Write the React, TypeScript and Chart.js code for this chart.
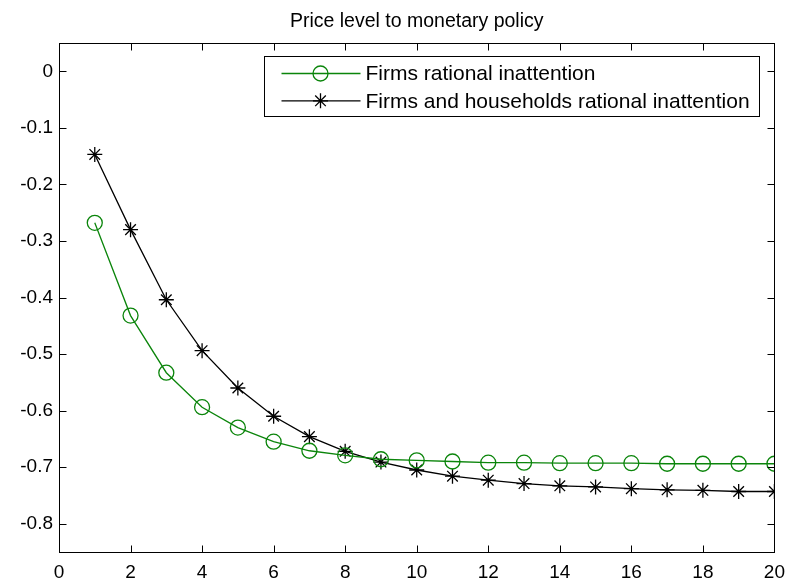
import React, { useEffect, useRef } from "react";
import { Chart, registerables } from "chart.js";

Chart.register(...registerables);

const chartTitle = "Price level to monetary policy";
const periods = [1, 2, 3, 4, 5, 6, 7, 8, 9, 10, 11, 12, 13, 14, 15, 16, 17, 18, 19, 20];
const firmsLabel = "Firms rational inattention";
const firmsRI = [
  -0.268, -0.432, -0.533, -0.594, -0.63, -0.655, -0.671, -0.679, -0.686, -0.688,
  -0.69, -0.692, -0.692, -0.693, -0.693, -0.693, -0.694, -0.694, -0.694, -0.694,
];
const bothLabel = "Firms and households rational inattention";
const firmsHouseholdsRI = [
  -0.147, -0.28, -0.404, -0.494, -0.56, -0.61, -0.646, -0.672, -0.691, -0.705,
  -0.716, -0.723, -0.729, -0.733, -0.735, -0.738, -0.74, -0.741, -0.743, -0.743,
];
const xTicks = [0, 2, 4, 6, 8, 10, 12, 14, 16, 18, 20];
const yTicks = [0, -0.1, -0.2, -0.3, -0.4, -0.5, -0.6, -0.7, -0.8];
const yTickLabels = ["0", "-0.1", "-0.2", "-0.3", "-0.4", "-0.5", "-0.6", "-0.7", "-0.8"];

const FONT = '"Liberation Sans", Arial, Helvetica, sans-serif';
const GREEN = "#0b850b";
const LW = 1.3;

function drawMarker(ctx: CanvasRenderingContext2D, style: string, x: number, y: number, r: number, color: string) {
  ctx.save();
  ctx.strokeStyle = color;
  ctx.lineWidth = LW;
  ctx.beginPath();
  if (style === "circle") {
    ctx.arc(x, y, r, 0, Math.PI * 2);
  } else {
    const d = r * Math.SQRT1_2;
    ctx.moveTo(x - r, y);
    ctx.lineTo(x + r, y);
    ctx.moveTo(x, y - r);
    ctx.lineTo(x, y + r);
    ctx.moveTo(x - d, y - d);
    ctx.lineTo(x + d, y + d);
    ctx.moveTo(x - d, y + d);
    ctx.lineTo(x + d, y - d);
  }
  ctx.stroke();
  ctx.restore();
}

const boxTicksPlugin = {
  id: "boxTicks",
  afterDatasetsDraw(chart: any) {
    const { ctx, chartArea } = chart;
    const xs = chart.scales.x;
    const ys = chart.scales.y;
    const L = Math.round(chartArea.left) + 0.5;
    const R = Math.round(chartArea.right) + 0.5;
    const T = Math.round(chartArea.top) + 0.5;
    const B = Math.round(chartArea.bottom) + 0.5;
    const tl = 7;
    ctx.save();
    ctx.strokeStyle = "#000";
    ctx.lineWidth = 1;
    ctx.beginPath();
    xs.ticks.forEach((t: any) => {
      const px = Math.round(xs.getPixelForValue(t.value)) + 0.5;
      ctx.moveTo(px, B);
      ctx.lineTo(px, B - tl);
      ctx.moveTo(px, T);
      ctx.lineTo(px, T + tl);
    });
    ys.ticks.forEach((t: any) => {
      const py = Math.round(ys.getPixelForValue(t.value)) + 0.5;
      ctx.moveTo(L, py);
      ctx.lineTo(L + tl, py);
      ctx.moveTo(R, py);
      ctx.lineTo(R - tl, py);
    });
    ctx.stroke();
    ctx.strokeRect(L, T, R - L, B - T);
    ctx.restore();
  },
};

const insetLegendPlugin = {
  id: "insetLegend",
  afterDraw(chart: any) {
    const { ctx, chartArea } = chart;
    ctx.save();
    ctx.font = `21px ${FONT}`;
    const items = chart.data.datasets.map((ds: any) => ({
      label: ds.label,
      color: ds.borderColor,
      style: ds.pointStyle,
      radius: ds.pointRadius,
    }));
    const textW = Math.max(...items.map((i: any) => ctx.measureText(i.label).width));
    const right = Math.round(chartArea.right) - 15 + 0.5;
    const width = Math.round(101 + textW + 10);
    const left = right - width;
    const top = Math.round(chartArea.top) + 13 + 0.5;
    const height = 60;
    ctx.fillStyle = "#fff";
    ctx.fillRect(left, top, width, height);
    ctx.strokeStyle = "#000";
    ctx.lineWidth = 1;
    ctx.strokeRect(left, top, width, height);
    items.forEach((it: any, i: number) => {
      const y = top + 17 + i * 27.3;
      ctx.strokeStyle = it.color;
      ctx.lineWidth = LW;
      ctx.beginPath();
      ctx.moveTo(left + 17, y);
      ctx.lineTo(left + 96, y);
      ctx.stroke();
      drawMarker(ctx, it.style, left + 56, y, it.radius, it.color);
      ctx.fillStyle = "#000";
      ctx.textAlign = "left";
      ctx.textBaseline = "middle";
      ctx.fillText(it.label, left + 101, y + 1);
    });
    ctx.restore();
  },
};

export default function App() {
  const canvasRef = useRef<HTMLCanvasElement | null>(null);

  useEffect(() => {
    const canvas = canvasRef.current;
    if (!canvas) return;
    const chart = new Chart(canvas, {
      type: "line",
      data: {
        datasets: [
          {
            label: firmsLabel,
            data: periods.map((p, i) => ({ x: p, y: firmsRI[i] })),
            borderColor: GREEN,
            backgroundColor: "transparent",
            borderWidth: LW,
            pointStyle: "circle",
            pointRadius: 7.5,
            pointBorderWidth: LW,
            pointBorderColor: GREEN,
            pointBackgroundColor: "transparent",
            tension: 0,
            fill: false,
          },
          {
            label: bothLabel,
            data: periods.map((p, i) => ({ x: p, y: firmsHouseholdsRI[i] })),
            borderColor: "#000",
            backgroundColor: "transparent",
            borderWidth: LW,
            pointStyle: "star",
            pointRadius: 7.5,
            pointBorderWidth: LW,
            pointBorderColor: "#000",
            pointBackgroundColor: "transparent",
            tension: 0,
            fill: false,
          },
        ],
      },
      options: {
        animation: false,
        responsive: false,
        devicePixelRatio: 1,
        layout: { padding: { left: 0, right: 15, top: 0, bottom: 0 } },
        plugins: {
          legend: { display: false },
          tooltip: { enabled: false },
          title: {
            display: true,
            text: chartTitle,
            fullSize: false,
            color: "#000",
            font: { family: FONT, size: 19.5, weight: "normal", lineHeight: 1.2 },
            padding: { top: 10, bottom: 9.6 },
          },
        },
        scales: {
          x: {
            type: "linear",
            min: 0,
            max: 20,
            border: { display: false },
            grid: { display: false, drawTicks: false },
            afterBuildTicks: (scale: any) => {
              scale.ticks = xTicks.map((v) => ({ value: v }));
            },
            afterFit: (scale: any) => {
              scale.height = 35;
            },
            ticks: {
              color: "#000",
              padding: 9,
              maxRotation: 0,
              autoSkip: false,
              font: { family: FONT, size: 19 },
              callback: (v: any) => String(v),
            },
          },
          y: {
            type: "linear",
            min: -0.85,
            max: 0.05,
            border: { display: false },
            grid: { display: false, drawTicks: false },
            afterBuildTicks: (scale: any) => {
              scale.ticks = yTicks.map((v) => ({ value: v }));
            },
            afterFit: (scale: any) => {
              scale.width = 59;
            },
            ticks: {
              color: "#000",
              padding: 6,
              autoSkip: false,
              font: { family: FONT, size: 19 },
              callback: (_v: any, i: number) => yTickLabels[i],
            },
          },
        },
      },
      plugins: [boxTicksPlugin, insetLegendPlugin],
    } as any);
    return () => chart.destroy();
  }, []);

  return (
    <div style={{ position: "fixed", left: 0, top: 0, width: 794, height: 587, background: "#fff" }}>
      <canvas ref={canvasRef} width={794} height={587} style={{ display: "block" }} />
    </div>
  );
}
